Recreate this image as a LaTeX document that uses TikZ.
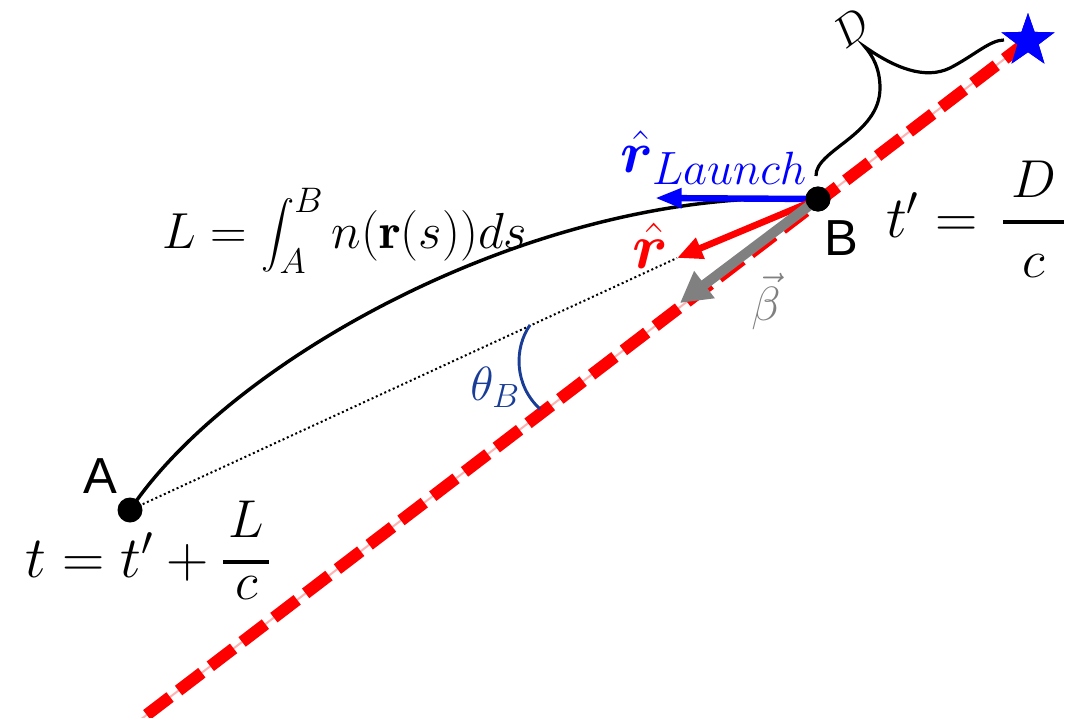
\RequirePackage{fix-cm}
\documentclass[tikz,border=0pt]{standalone}
\usepackage{amsmath,bm}
\usepackage{fontspec}
\newfontfamily\labelfont{Liberation Sans}
\usetikzlibrary{arrows.meta,shapes.geometric}
\definecolor{thetablue}{RGB}{25,60,150}
\definecolor{arrowgray}{RGB}{128,128,128}
\definecolor{pureblue}{RGB}{0,0,255}
\definecolor{purered}{RGB}{255,0,0}
\newcommand{\fsz}[2]{\mbox{\fontsize{#1}{#1}\selectfont$#2$}}
\newcommand{\thickfrac}[2]{\genfrac{}{}{3pt}{0}{#1}{#2}}
\begin{document}
\begin{tikzpicture}[x=0.75pt,y=-0.75pt,
  dot/.style={circle,fill=black,minimum size=18.75pt,inner sep=0pt},
  ptlabel/.style={font=\labelfont\fontsize{38}{40}\selectfont,inner sep=0pt,anchor=base},
  eqbig/.style={inner sep=0pt,anchor=base,font=\fontsize{44}{50}\selectfont},
  eqmid/.style={inner sep=0pt,anchor=base,font=\fontsize{36}{40}\selectfont},
  reddash/.style={purered,line width=9pt,dash pattern=on 22pt off 8pt},
  redthin/.style={purered!30,line width=1.5pt},
  starnode/.style={star,star points=5,star point ratio=2.5,minimum size=42pt,inner sep=0pt,fill=pureblue},
]
\useasboundingbox (0,0) rectangle (1072,718);
\clip (0,0) rectangle (1072,718);
% key points
\coordinate (E) at (140,720);
\node[starnode] (S) at (1028,41) {};
\node[dot] (A) at (130,510) {};
\node[dot] (B) at (818,199) {};
\coordinate (rtip) at (677,258);
\coordinate (btip) at (655,198);
\coordinate (gtip) at (680,303);
% line of sight
\draw[redthin] (S.center) -- (E);
\draw[reddash] (S.center) -- (E);
\node[starnode] at (S) {};
% ray path
\draw[line width=2.6pt] (A.center) .. controls (230,360) and (540,185) .. (B.center);
\draw[line width=1.5pt,dotted] (A.center) -- (rtip);
% angle
\draw[thetablue,line width=2.2pt] (530,325) .. controls (514,348) and (514,385) .. (540,409);
\node[eqmid,text=thetablue] (th) at (495,400) {$\theta_B$};
% arrows
\draw[pureblue,line width=4.8pt,-{Triangle[length=20pt,width=14pt]}] (B.center) -- (btip);
\draw[purered,line width=5pt,-{Triangle[length=19pt,width=16pt]}] (B.center) -- (rtip);
\draw[arrowgray,line width=7.5pt,-{Triangle[length=23pt,width=24pt]}] (B.center) -- (gtip);
\node[dot] at (B) {};
% brace D
\coordinate (br0) at (816,176);
\coordinate (brtip) at (865,47);
\coordinate (br1) at (1004,40);
\draw[line width=2.4pt] (br0) .. controls (815,150) and (880,135) .. (880,88)
  .. controls (880,68) and (872,55) .. (brtip)
  .. controls (895,68) and (925,80) .. (950,68)
  .. controls (975,55) and (990,40) .. (br1);
\node[inner sep=0pt,font=\fontsize{32}{36}\selectfont,rotate=37] (Dlab) at (851,28) {$D$};
% labels
\node[ptlabel] (Alab) at (100,493) {A};
\node[ptlabel] (Blab) at (841,255) {B};
\node[inner sep=0pt,anchor=base,font=\fontsize{38}{42}\selectfont] (Leq) at (345,248) {$\displaystyle L=\int_A^B n(\mathbf{r}(s))ds$};
\node[eqbig] (tpeq) at (976,237) {$t'=\hspace{6pt}\thickfrac{\hspace{6pt}\fsz{40}{D}\hspace{6pt}}{\fsz{40}{c}}$};
\node[eqbig] (teq) at (148,577) {$t=t'+\thickfrac{\hspace{4pt}\fsz{40}{L}\hspace{4pt}}{\raisebox{13pt}{\fsz{40}{c}}}$};
\node[eqbig,text=pureblue] (rL) at (714,172) {$\hat{\bm r}_{\fsz{35}{Launch}}$};
\node[inner sep=0pt,anchor=base,font=\fontsize{48}{52}\selectfont,text=purered] (rh) at (650,268) {$\hat{\bm r}$};
\node[eqmid,text=arrowgray] (beta) at (766,320) {$\vec\beta$};
\end{tikzpicture}
\end{document}
